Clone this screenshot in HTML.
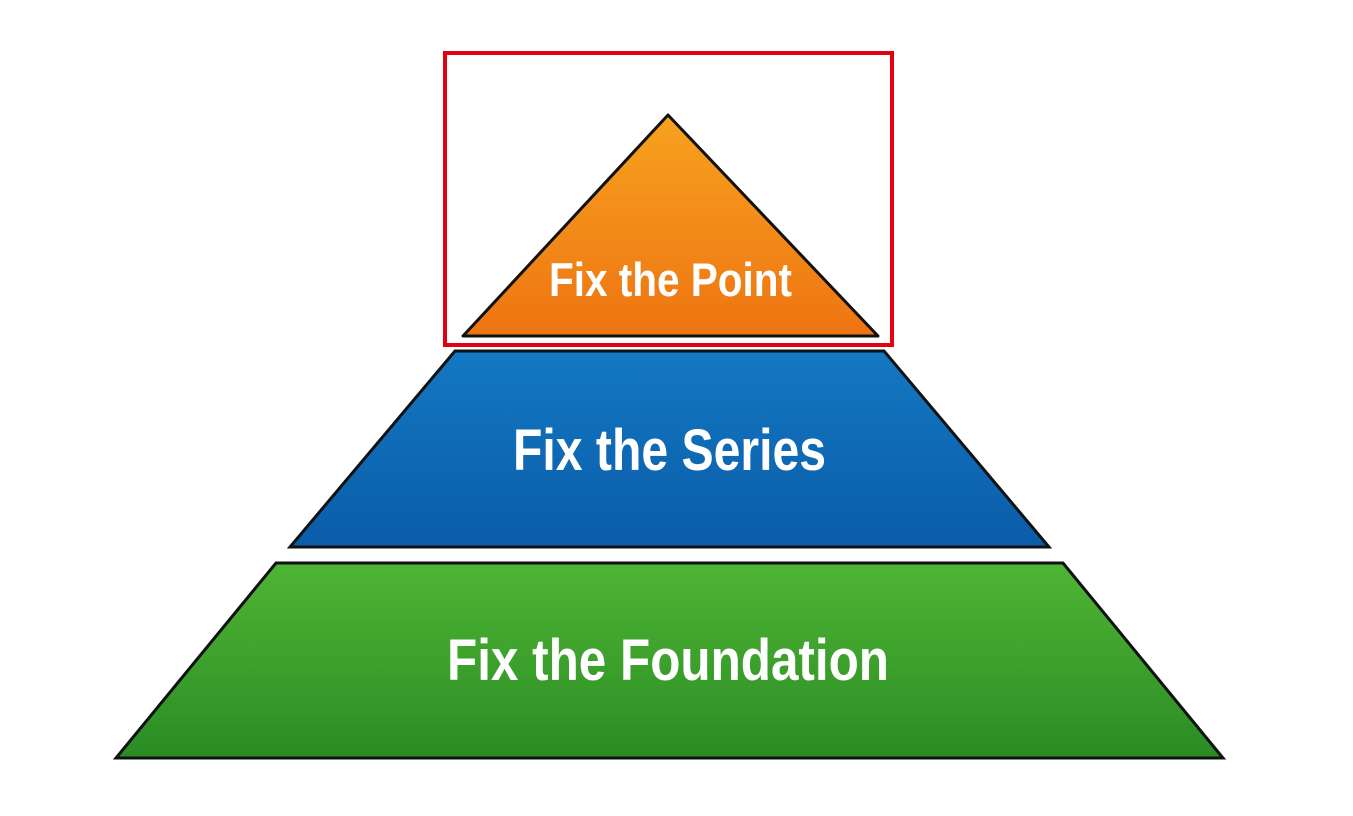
<!DOCTYPE html>
<html><head><meta charset="utf-8"><style>html,body{margin:0;padding:0;background:#fff;}svg{display:block}</style></head>
<body>
<svg width="1353" height="816" viewBox="0 0 1353 816" xmlns="http://www.w3.org/2000/svg">
<defs>
<linearGradient id="o" x1="0" y1="0" x2="0" y2="1"><stop offset="0" stop-color="#f7a21f"/><stop offset="1" stop-color="#ee7412"/></linearGradient>
<linearGradient id="b" x1="0" y1="0" x2="0" y2="1"><stop offset="0" stop-color="#1478c2"/><stop offset="1" stop-color="#0a5ca8"/></linearGradient>
<linearGradient id="g" x1="0" y1="0" x2="0" y2="1"><stop offset="0" stop-color="#4fb534"/><stop offset="1" stop-color="#2a8c24"/></linearGradient>
</defs>
<rect width="1353" height="816" fill="#fff"/>
<polygon points="668,115 463,336 878,336" fill="url(#o)" stroke="#111" stroke-width="3" stroke-linejoin="round"/>
<polygon points="455,351 884,351 1049,547 290,547" fill="url(#b)" stroke="#111" stroke-width="3"/>
<polygon points="276,563 1063,563 1223,758 116,758" fill="url(#g)" stroke="#111" stroke-width="3"/>
<rect x="445" y="53" width="447" height="292" fill="none" stroke="#e3000f" stroke-width="4"/>
<g font-family="Liberation Sans, sans-serif" font-weight="bold" fill="#fff">
<text x="549" y="296" font-size="47" textLength="243" lengthAdjust="spacingAndGlyphs">Fix the Point</text>
<text x="513" y="470" font-size="58" textLength="313" lengthAdjust="spacingAndGlyphs">Fix the Series</text>
<text x="447" y="680" font-size="58" textLength="442" lengthAdjust="spacingAndGlyphs">Fix the Foundation</text>
</g>
</svg>
</body></html>
